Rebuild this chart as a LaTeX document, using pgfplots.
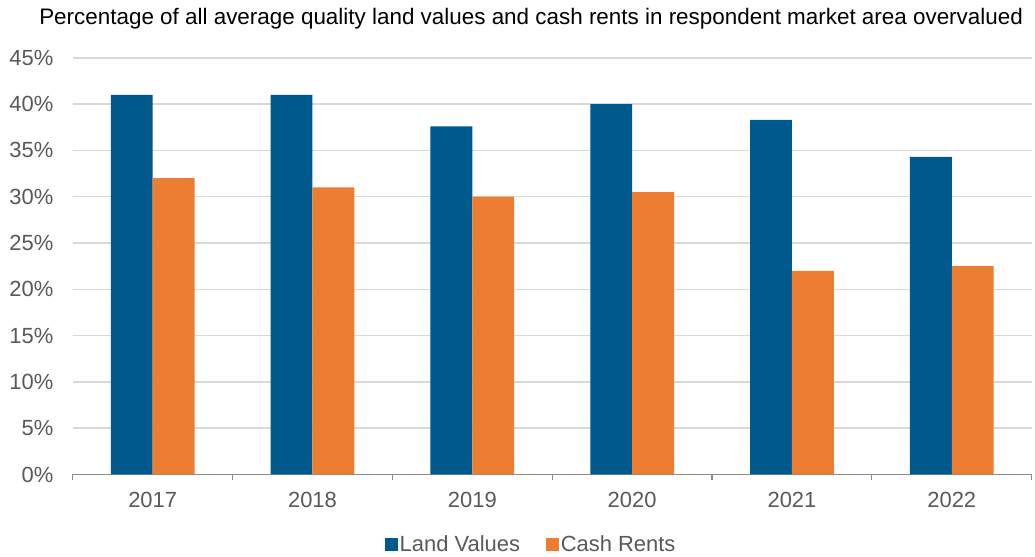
\documentclass[border=0pt]{standalone}
\usepackage{fontspec}
\setmainfont{Liberation Sans}
\usepackage{pgfplots}
\pgfplotsset{compat=1.18}
\definecolor{landc}{HTML}{00598C}
\definecolor{cashc}{HTML}{ED7D31}
\definecolor{txt}{HTML}{595959}
\definecolor{gridc}{HTML}{D9D9D9}
\definecolor{axc}{HTML}{8C8C8C}
\begin{document}
\begin{tikzpicture}
\begin{axis}[
  at={(0,0)}, anchor=south west,
  scale only axis, width=962pt, height=418pt,
  ybar=0pt, bar width=42pt,
  xmin=-0.5, xmax=5.5, ymin=0, ymax=45,
  axis lines*=left,
  y axis line style={draw=none},
  x axis line style={color=axc, line width=1.2pt},
  xtick={-0.5,0.5,1.5,2.5,3.5,4.5,5.5}, xticklabels={},
  tick align=outside, major tick length=6pt,
  xtick style={color=axc, line width=1.2pt},
  extra x ticks={0,1,2,3,4,5},
  extra x tick labels={2017,2018,2019,2020,2021,2022},
  extra x tick style={major tick length=0pt, xticklabel style={yshift=-14pt}},
  ytick={0,5,...,45},
  ytick style={draw=none},
  yticklabel={\pgfmathprintnumber{\tick}\%},
  /pgf/number format/assume math mode=true,
  yticklabel style={xshift=-10pt},
  ymajorgrids, grid style={color=gridc, line width=1.5pt},
  tick label style={font=\fontsize{22}{26}\selectfont, text=txt},
  title={Percentage of all average quality land values and cash rents in respondent market area overvalued},
  title style={at={(axis description cs:0.478,1)}, anchor=center, yshift=33pt, font=\fontsize{22.5}{26}\selectfont, text=black},
  legend style={at={(axis description cs:0.478,0)}, anchor=center, yshift=-70pt, draw=none, legend columns=2,
    font=\fontsize{22}{26}\selectfont, text=txt,
    /tikz/every even column/.append style={column sep=24pt}},
  legend image code/.code={\fill[#1] (0pt,-6.5pt) rectangle (13pt,6.5pt);},
]
\addplot[fill=landc, draw=none] coordinates {(0,41) (1,41) (2,37.6) (3,40) (4,38.3) (5,34.3)};
\addplot[fill=cashc, draw=none] coordinates {(0,32) (1,31) (2,30) (3,30.5) (4,22) (5,22.5)};
\legend{Land Values, Cash Rents}
\end{axis}
\path[use as bounding box] (-73pt,-76pt) rectangle (962pt,476pt);
\end{tikzpicture}
\end{document}
